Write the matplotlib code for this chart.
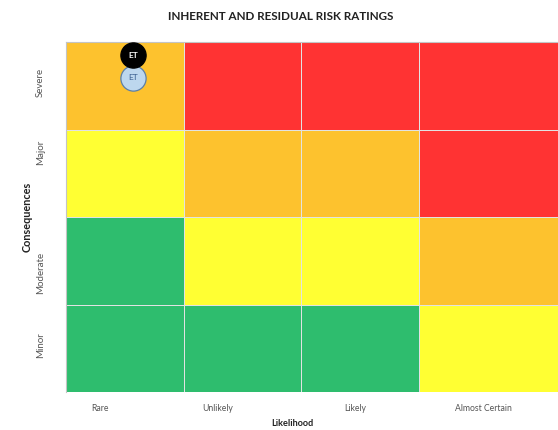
import matplotlib
matplotlib.use("Agg")
import matplotlib.pyplot as plt
from matplotlib.colors import ListedColormap
import numpy as np

# Axis categories
likelihood = ["Rare", "Unlikely", "Likely", "Almost Certain"]
consequences = ["Minor", "Moderate", "Major", "Severe"]

# Rating level per cell (rows: Minor -> Severe, cols: Rare -> Almost Certain)
# 0 = low (green), 1 = medium (yellow), 2 = high (orange), 3 = extreme (red)
ratings = [
    [0, 0, 0, 1],
    [0, 1, 1, 2],
    [1, 2, 2, 3],
    [2, 3, 3, 3],
]
rating_colors = ["#2ebd6e", "#ffff33", "#fdc22e", "#ff3333"]

# Risk markers: label, likelihood position, consequence position
inherent_risk = ("ET", 0.57, 3.85)
residual_risk = ("ET", 0.57, 3.59)

fig = plt.figure(figsize=(5.58, 4.30), dpi=100)
W, H = 558, 430
left, top, bottom = 66, 42, 392
col_w = 117.5
ax = fig.add_axes([left / W, 1 - bottom / H, (W - left) / W, (bottom - top) / H])

xedges = [0, 1, 2, 3, 6]
yedges = [0, 1, 2, 3, 4]
cmap = ListedColormap(rating_colors)
ax.pcolormesh(xedges, yedges, np.array(ratings), cmap=cmap, vmin=-0.5, vmax=3.5,
              edgecolors="#e2e2e2", linewidth=0.6)
ax.set_xlim(0, (W - left) / col_w)
ax.set_ylim(0, 4)
for s in ax.spines.values():
    s.set_visible(False)
ax.plot([0, 0], [0, 4], color="#c4c4c4", lw=0.8, clip_on=False)
ax.plot([0, 6], [4, 4], color="#c4c4c4", lw=0.8, clip_on=False)
ax.set_xticks([])
ax.set_yticks([])

font = "Lato"
label_color = "#555555"

# Column labels
x_label_pos = [0.29, 1.29, 2.46, 3.55]
for name, xp in zip(likelihood, x_label_pos):
    ax.text(xp, -0.19, name, ha="center", va="center", fontsize=6.2,
            family=font, color=label_color)
ax.text(1.93, -0.355, "Likelihood", ha="center", va="center", fontsize=6.6,
        family=font, fontweight="bold", color="#222222")

# Row labels
y_label_pos = [0.53, 1.36, 2.74, 3.54]
for name, yp in zip(consequences, y_label_pos):
    ax.text(-0.22, yp, name, ha="center", va="center", rotation=90,
            fontsize=7.0, family=font, color=label_color)
ax.text(-0.33, 2.0, "Consequences", ha="center", va="center", rotation=90,
        fontsize=7.8, family=font, fontweight="bold", color="#222222")

# Risk markers
lbl, xr, yr = residual_risk
ax.scatter([xr], [yr], s=330, color="#bdd7ee", edgecolors="#5b7fa8",
           linewidths=0.9, zorder=4)
ax.text(xr, yr, lbl, ha="center", va="center", fontsize=6, family=font,
        color="#3a5f8f", zorder=5)
lbl, xi, yi = inherent_risk
ax.scatter([xi], [yi], s=330, color="#000000", edgecolors="#000000",
           linewidths=0.9, zorder=6)
ax.text(xi, yi, lbl, ha="center", va="center", fontsize=6, family=font,
        fontweight="bold", color="white", zorder=7)

fig.text(281 / W, 1 - 17 / H, "INHERENT AND RESIDUAL RISK RATINGS",
         ha="center", va="center", fontsize=8.4, family=font, fontweight="bold",
         color="#222222")

fig.savefig("out.png", dpi=100)
